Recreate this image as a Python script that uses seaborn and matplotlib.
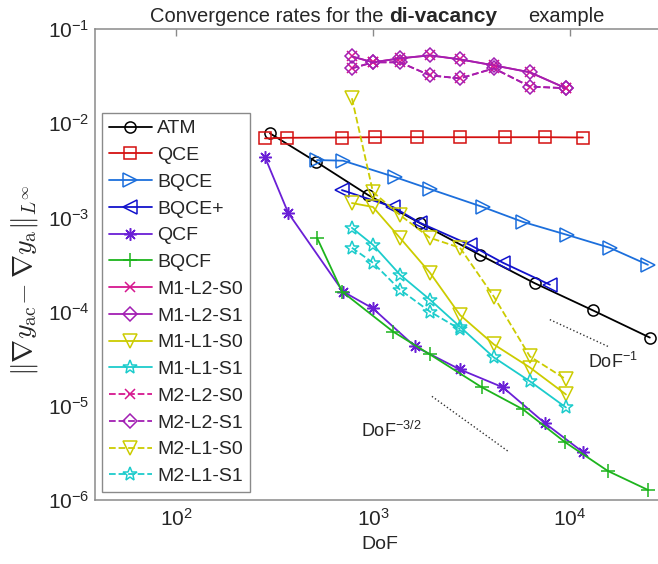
import matplotlib
matplotlib.use('Agg')
import matplotlib.pyplot as plt
import seaborn as sns
from matplotlib.ticker import NullLocator

# --- data (DoF vs. gradient error) ---
atm_dof = [300, 514, 944, 1734, 3489, 6633, 13090, 25450]
atm_err = [7.8e-3, 3.9e-3, 1.73e-3, 8.7e-4, 4.0e-4, 2.0e-4, 1.03e-4, 5.3e-5]

qce_dof = [283, 366, 697, 1024, 1672, 2766, 4678, 7467, 11650]
qce_err = [6.9e-3, 7.0e-3, 7.05e-3, 7.1e-3, 7.1e-3, 7.1e-3, 7.1e-3, 7.1e-3, 7.05e-3]

bqce_dof = [520, 705, 1293, 1946, 3611, 5767, 9656, 15960, 24880]
bqce_err = [4.06e-3, 4.0e-3, 2.68e-3, 2.0e-3, 1.29e-3, 8.96e-4, 6.53e-4, 4.75e-4, 3.14e-4]

bqcep_dof = [696, 1264, 1734, 3107, 4573, 7912]
bqcep_err = [1.95e-3, 1.29e-3, 8.75e-4, 5.11e-4, 3.30e-4, 1.93e-4]

qcf_dof = [283, 371, 705, 1000, 1633, 2766, 4570, 7470, 11650]
qcf_err = [4.37e-3, 1.12e-3, 1.63e-4, 1.08e-4, 4.27e-5, 2.43e-5, 1.57e-5, 6.53e-6, 3.22e-6]

bqcf_dof = [520, 697, 1264, 1946, 3573, 5767, 9446, 15600, 24880]
bqcf_err = [6.07e-4, 1.63e-4, 6.14e-5, 3.51e-5, 1.57e-5, 9.19e-6, 4.11e-6, 2.03e-6, 1.28e-6]

# the M-methods share their meshes
m_dof = [782, 1000, 1371, 1946, 2767, 4111, 6265, 9546]
m1_l2_s0 = [0.0511, 0.0443, 0.0488, 0.0525, 0.0476, 0.0411, 0.0347, 0.0235]
m1_l2_s1 = [0.0511, 0.0443, 0.0488, 0.0525, 0.0476, 0.0411, 0.0347, 0.0235]
m1_l1_s0 = [1.42e-3, 1.29e-3, 6.07e-4, 2.59e-4, 9.2e-5, 4.48e-5, 2.55e-5, 1.32e-5]
m1_l1_s1 = [7.74e-4, 5.12e-4, 2.47e-4, 1.34e-4, 6.9e-5, 3.26e-5, 1.82e-5, 9.6e-6]
m2_l2_s0 = [0.0382, 0.0443, 0.0443, 0.0322, 0.0299, 0.0382, 0.0245, 0.0235]
m2_l2_s1 = [0.0382, 0.0443, 0.0443, 0.0322, 0.0299, 0.0382, 0.0245, 0.0235]
m2_l1_s0 = [1.84e-2, 1.86e-3, 1.06e-3, 6.07e-4, 4.76e-4, 1.44e-4, 3.34e-5, 1.91e-5]
m2_l1_s1_dof = [782, 1000, 1371, 1946, 2767]
m2_l1_s1 = [4.76e-4, 3.30e-4, 1.71e-4, 1.0e-4, 6.5e-5]

# slope guides
rate1_dof = [7907, 15600]
rate1_err = [8.22e-5, 4.27e-5]
rate32_dof = [1992, 4844]
rate32_err = [1.26e-5, 3.30e-6]

sns.set_theme(style='white')
plt.rcParams['font.family'] = ['Liberation Sans', 'DejaVu Sans']
plt.rcParams['mathtext.fontset'] = 'custom'
plt.rcParams['mathtext.rm'] = 'Liberation Sans'
plt.rcParams['mathtext.it'] = 'Liberation Sans:italic'
plt.rcParams['mathtext.bf'] = 'Liberation Sans:bold'
plt.rcParams['axes.unicode_minus'] = False

fig = plt.figure(figsize=(6.58, 5.64), dpi=100)
# axes run slightly past the right edge of the picture, like the reference
ax = fig.add_axes([95 / 658, 64 / 564, 568.9 / 658, 471 / 564])
ax.set_xscale('log')
ax.set_yscale('log')

c_pink = '#d6178f'
c_purple = '#a21fb3'
c_yellow = '#cccc00'
c_cyan = '#1ccccc'

series = [
    ('ATM', atm_dof, atm_err, 'black', 'o', '-', 8),
    ('QCE', qce_dof, qce_err, '#d41010', 's', '-', 8),
    ('BQCE', bqce_dof, bqce_err, '#1c6fdc', '>', '-', 9.5),
    ('BQCE+', bqcep_dof, bqcep_err, '#1212cc', '<', '-', 9.5),
    ('QCF', qcf_dof, qcf_err, '#6a1fd6', (8, 2, 0), '-', 9),
    ('BQCF', bqcf_dof, bqcf_err, '#1db41d', '+', '-', 10),
    ('M1-L2-S0', m_dof, m1_l2_s0, c_pink, 'x', '-', 7),
    ('M1-L2-S1', m_dof, m1_l2_s1, c_purple, 'D', '-', 7.5),
    ('M1-L1-S0', m_dof, m1_l1_s0, c_yellow, 'v', '-', 9.5),
    ('M1-L1-S1', m_dof, m1_l1_s1, c_cyan, '*', '-', 10),
    ('M2-L2-S0', m_dof, m2_l2_s0, c_pink, 'x', '--', 7),
    ('M2-L2-S1', m_dof, m2_l2_s1, c_purple, 'D', '--', 7.5),
    ('M2-L1-S0', m_dof, m2_l1_s0, c_yellow, 'v', '--', 9.5),
    ('M2-L1-S1', m2_l1_s1_dof, m2_l1_s1, c_cyan, '*', '--', 10),
]

for name, dof, err, col, mk, ls, ms in series:
    sns.lineplot(x=dof, y=err, ax=ax, label=name, color=col, linestyle=ls,
                 linewidth=1.3, marker=mk, markersize=ms,
                 markerfacecolor='none', markeredgecolor=col, markeredgewidth=1.1,
                 estimator=None, sort=False)

sns.lineplot(x=rate1_dof, y=rate1_err, ax=ax, color='#333333', linestyle=':',
             linewidth=1.0, estimator=None, sort=False)
sns.lineplot(x=rate32_dof, y=rate32_err, ax=ax, color='#333333', linestyle=':',
             linewidth=1.0, estimator=None, sort=False)
ax.text(12400, 2.95e-5, r'DoF$^{-1}$', fontsize=13, ha='left', va='center')
ax.text(870, 5.4e-6, r'DoF$^{-3/2}$', fontsize=13, ha='left', va='center')

ax.set_xlim(38.8, 3e4)
ax.set_ylim(1e-6, 1e-1)
ax.xaxis.set_minor_locator(NullLocator())
ax.yaxis.set_minor_locator(NullLocator())
ax.tick_params(which='major', direction='in', length=5, width=1, color='#8a8a8a',
               top=True, right=False, labelsize=15)
ax.tick_params(axis='y', pad=4)
ax.tick_params(axis='x', pad=6)
for sp in ax.spines.values():
    sp.set_color('#8a8a8a')
    sp.set_linewidth(1.1)

ax.set_xlabel('DoF', fontsize=14, labelpad=4)
ax.set_ylabel(r'$\Vert\nabla y_{\rm ac}\!-\nabla y_{\rm a}\Vert_{L^\infty}$',
              fontsize=20, math_fontfamily='cm')
ax.yaxis.set_label_coords(-0.097, 0.467)

leg = ax.legend(loc='upper left', bbox_to_anchor=(102 / 658, 1 - 113 / 564),
                bbox_transform=fig.transFigure, fontsize=14, frameon=True,
                fancybox=False, framealpha=1, edgecolor='#8a8a8a',
                handlelength=2.2, handletextpad=0.3, labelspacing=0.47,
                borderpad=0.35, borderaxespad=0)
leg.get_frame().set_linewidth(1.0)

# title pieces, with the bold middle word
ty = 1 - 17 / 564
fig.text(383 / 658, ty, 'Convergence rates for the', fontsize=14.5, ha='right', va='center')
fig.text(389 / 658, ty, 'di-vacancy', fontsize=15, fontweight='bold', ha='left', va='center')
fig.text(528 / 658, ty, 'example', fontsize=14.5, ha='left', va='center')

fig.savefig('out.png', dpi=100)
